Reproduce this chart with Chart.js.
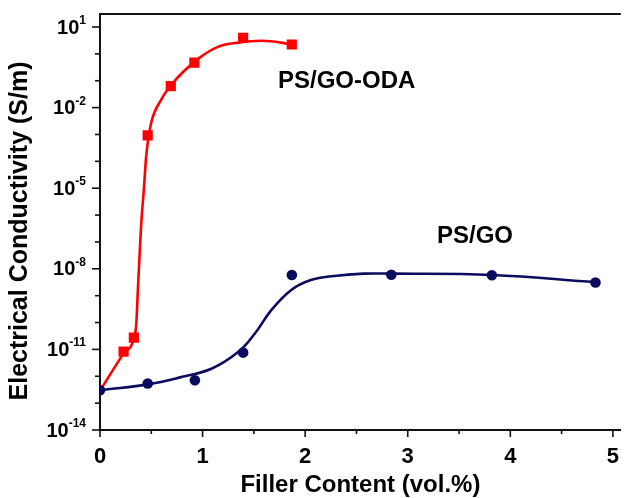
<!DOCTYPE html>
<html>
<head>
<meta charset="utf-8">
<script src="https://cdn.jsdelivr.net/npm/chart.js@4.4.1/dist/chart.umd.min.js"></script>
<style>
  body { margin: 0; background: #fff; }
  #wrap { width: 628px; height: 498px; }
</style>
</head>
<body>
<div id="wrap"><canvas id="myChart"></canvas></div>
<script>
// measured points
const redX = [0.23, 0.33, 0.465, 0.69, 0.92, 1.395, 1.87];
const redY = [8.3e-12, 2.75e-11, 9.3e-4, 0.063, 0.47, 3.98, 2.24];
const blueX = [0, 0.465, 0.925, 1.395, 1.87, 2.84, 3.82, 4.83];
const blueY = [3.0e-13, 5.4e-13, 7.1e-13, 7.6e-12, 5.9e-9, 6.0e-9, 5.75e-9, 3.1e-9];

// fitted curves
const redFitX = [0, 0.23, 0.33, 0.354, 0.369, 0.385, 0.402, 0.427, 0.45, 0.498, 0.594, 0.706, 0.963, 1.156, 1.349, 1.573, 1.766, 1.87];
const redFitY = [2.9e-13, 7.1e-12, 2.5e-11, 9.1e-11, 1.6e-9, 2.8e-8, 4.9e-7, 8.5e-6, 1.5e-4, 2.6e-3, 1.9e-2, 7.9e-2, 0.68, 1.86, 2.63, 3.09, 2.63, 2.14];
const blueFitX = [0, 0.465, 0.771, 1.092, 1.349, 1.51, 1.67, 1.862, 2.055, 2.28, 2.57, 2.84, 3.82, 4.83];
const blueFitY = [3.0e-13, 5.0e-13, 8.9e-13, 1.95e-12, 8.1e-12, 3.9e-11, 2.9e-10, 1.6e-9, 3.8e-9, 5.4e-9, 6.6e-9, 6.6e-9, 5.9e-9, 3.2e-9];

// axes
const xTicks = [0, 1, 2, 3, 4, 5];
const xLabels = ['0', '1', '2', '3', '4', '5'];
const xMinorTicks = [0.5, 1.5, 2.5, 3.5, 4.5];
const yMajorTicks = [1e-14, 1e-11, 1e-8, 1e-5, 1e-2, 1e1];
const yMajorExp = ['-14', '-11', '-8', '-5', '-2', '1'];
const yMinorTicks = [1e-13, 1e-12, 1e-10, 1e-9, 1e-7, 1e-6, 1e-4, 1e-3, 1e-1, 1];

const redColor = '#ff0000';
const blueColor = '#0c0c5e';
const fontFam = '"Liberation Sans", Arial, sans-serif';

function pts(xs, ys) {
    return xs.map((x, i) => ({ x: x, y: ys[i] }));
}

const decorations = {
    id: 'decorations',
    afterDraw(chart) {
        const ctx = chart.ctx;
        const area = chart.chartArea;
        const xs = chart.scales.x;
        const ys = chart.scales.y;
        ctx.save();
        ctx.strokeStyle = '#111';
        ctx.lineWidth = 2;
        // top frame line
        ctx.beginPath();
        ctx.moveTo(area.left - 1, area.top);
        ctx.lineTo(area.right, area.top);
        ctx.stroke();

        // x tick marks
        ctx.lineWidth = 1.6;
        xTicks.forEach(v => {
            let px = xs.getPixelForValue(v);
            ctx.beginPath();
            ctx.moveTo(px, area.bottom);
            ctx.lineTo(px, area.bottom + 7);
            ctx.stroke();
        });
        xMinorTicks.forEach(v => {
            let px = xs.getPixelForValue(v);
            ctx.beginPath();
            ctx.moveTo(px, area.bottom);
            ctx.lineTo(px, area.bottom + 4);
            ctx.stroke();
        });
        // y tick marks
        yMajorTicks.forEach(v => {
            let py = ys.getPixelForValue(v);
            ctx.beginPath();
            ctx.moveTo(area.left, py);
            ctx.lineTo(area.left - 8, py);
            ctx.stroke();
        });
        yMinorTicks.forEach(v => {
            let py = ys.getPixelForValue(v);
            ctx.beginPath();
            ctx.moveTo(area.left, py);
            ctx.lineTo(area.left - 5, py);
            ctx.stroke();
        });

        ctx.fillStyle = '#000';
        // x tick labels
        ctx.font = 'bold 22px ' + fontFam;
        ctx.textAlign = 'center';
        ctx.textBaseline = 'alphabetic';
        xTicks.forEach((v, i) => {
            ctx.fillText(xLabels[i], xs.getPixelForValue(v), area.bottom + 33);
        });

        // y tick labels 10^n
        const rightEdge = area.left - 14;
        yMajorTicks.forEach((v, i) => {
            let py = ys.getPixelForValue(v);
            ctx.font = 'bold 12px ' + fontFam;
            let ew = ctx.measureText(yMajorExp[i]).width;
            ctx.textAlign = 'right';
            ctx.textBaseline = 'alphabetic';
            ctx.fillText(yMajorExp[i], rightEdge, py - 3);
            ctx.font = 'bold 20px ' + fontFam;
            ctx.textBaseline = 'middle';
            ctx.fillText('10', rightEdge - ew, py + 1);
        });

        // y axis title
        ctx.save();
        ctx.translate(20, 231);
        ctx.rotate(-Math.PI / 2);
        ctx.font = 'bold 25px ' + fontFam;
        ctx.textAlign = 'center';
        ctx.textBaseline = 'middle';
        ctx.fillText('Electrical Conductivity (S/m)', 0, 0);
        ctx.restore();

        // series labels
        ctx.font = 'bold 24px ' + fontFam;
        ctx.textAlign = 'left';
        ctx.textBaseline = 'middle';
        ctx.fillText('PS/GO-ODA', 278, 81);
        ctx.fillText('PS/GO', 437, 236);
        ctx.restore();
    }
};

const ctx = document.getElementById('myChart').getContext('2d');
const myChart = new Chart(ctx, {
    type: 'scatter',
    data: {
        datasets: [{
            label: 'PS/GO points',
            data: pts(blueX, blueY),
            pointStyle: 'circle',
            pointRadius: 5.3,
            backgroundColor: blueColor,
            borderColor: blueColor,
            borderWidth: 0,
            showLine: false
        }, {
            label: 'PS/GO-ODA points',
            data: pts(redX, redY),
            pointStyle: 'rect',
            pointRadius: 7.2,
            backgroundColor: redColor,
            borderColor: redColor,
            borderWidth: 0,
            showLine: false
        }, {
            label: 'PS/GO fit',
            data: pts(blueFitX, blueFitY),
            showLine: true,
            pointRadius: 0,
            borderColor: blueColor,
            borderWidth: 2.6,
            tension: 0.4
        }, {
            label: 'PS/GO-ODA fit',
            data: pts(redFitX, redFitY),
            showLine: true,
            pointRadius: 0,
            borderColor: redColor,
            borderWidth: 2.6,
            cubicInterpolationMode: 'monotone'
        }]
    },
    options: {
        responsive: true,
        maintainAspectRatio: false,
        animation: false,
        layout: {
            padding: { left: 100, top: 14, right: 0, bottom: 0 }
        },
        plugins: {
            legend: { display: false },
            tooltip: { enabled: false }
        },
        scales: {
            x: {
                type: 'linear',
                min: 0,
                max: 5.077,
                grid: { display: false, drawTicks: false },
                border: { display: true, color: '#111', width: 2 },
                ticks: { display: false },
                title: {
                    display: true,
                    text: 'Filler Content (vol.%)',
                    color: '#000',
                    padding: { top: 41.2, bottom: -2 },
                    font: { family: fontFam, size: 24, weight: 'bold' }
                }
            },
            y: {
                type: 'logarithmic',
                min: 1e-14,
                max: 30.5,
                grid: { display: false, drawTicks: false },
                border: { display: true, color: '#111', width: 2 },
                ticks: { display: false },
                title: { display: false }
            }
        }
    },
    plugins: [decorations]
});
</script>
</body>
</html>
